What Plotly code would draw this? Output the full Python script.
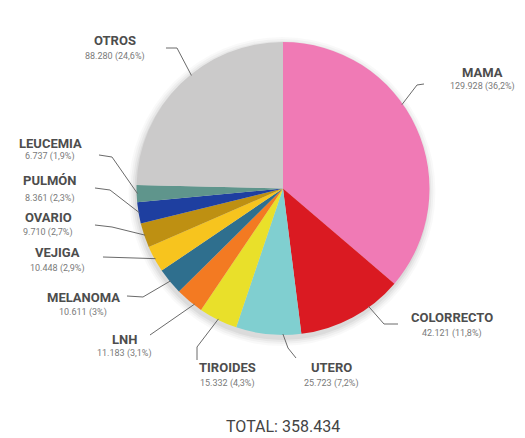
import math
import plotly.graph_objects as go

# ---------------- data ----------------
names = ["MAMA", "COLORRECTO", "UTERO", "TIROIDES", "LNH", "MELANOMA",
         "VEJIGA", "OVARIO", "PULMÓN", "LEUCEMIA", "OTROS"]
values = [129928, 42121, 25723, 15332, 11183, 10611, 10448, 9710, 8361, 6737, 88280]

# ---------------- style / layout ----------------
colors = ["#F07AB5", "#DA1A22", "#80CFD0", "#E9E02A", "#F37A22", "#2F6F8E",
          "#F7C41E", "#BE9012", "#1E3FA0", "#5F958C", "#CBCACA"]

W, H = 525, 438
dom_x = [136 / W, 430 / W]
dom_y = [1 - 335 / H, 1 - 42 / H]

# label centres in pixels (name line), value line offset
name_pos = [(482, 73), (452, 317), (331, 367), (227, 367), (124, 339), (83, 297),
            (57, 252), (48, 217), (50, 181), (50, 143), (115, 40)]
value_dy = [13, 16, 16, 16, 14, 15, 16, 15, 17, 14, 17]
# leader-line points near the label (pixels), the line then ends on the pie edge
leader_pts = [
    [(424, 84), (417, 85)],
    [(398, 324), (384, 324)],
    [(296, 358), (288, 348)],
    [(197, 360), (197, 347)],
    [(150, 335)],
    [(127, 296), (143, 297)],
    [(103, 257)],
    [(95, 225), (112, 227)],
    [(95, 188), (110, 190)],
    [(99, 155), (112, 157)],
    [(166, 48), (177, 48)],
]
anchor_frac = [0.42, 0.32, 0.28, 0.5, 0.3, 0.5, 0.5, 0.5, 0.5, 0.5, 0.56]

NAME_FONT = "Roboto, Liberation Sans Narrow, sans-serif"

# ---------------- helpers ----------------
total = sum(values)


def fmt_int(v):
    return f"{v:,}".replace(",", ".")


def fmt_pct(v):
    s = f"{v / total * 100:.1f}".replace(".", ",")
    if s.endswith(",0"):
        s = s[:-2]
    return s + "%"


def px2paper(x, y):
    return x / W, 1 - y / H


cx = (dom_x[0] + dom_x[1]) / 2 * W
cy = (1 - (dom_y[0] + dom_y[1]) / 2) * H
r = min((dom_x[1] - dom_x[0]) * W, (dom_y[1] - dom_y[0]) * H) / 2

fig = go.Figure(go.Pie(
    labels=names,
    values=values,
    marker=dict(colors=colors, line=dict(width=0)),
    sort=False,
    direction="clockwise",
    rotation=0,
    textinfo="none",
    hoverinfo="label+value+percent",
    showlegend=False,
    domain=dict(x=dom_x, y=dom_y),
))

shapes = []
# soft shadow behind the pie
for k, a in [(8, 0.025), (6, 0.03), (4, 0.04), (2, 0.05)]:
    x0, y0 = px2paper(cx - r - k, cy - r - k + 3)
    x1, y1 = px2paper(cx + r + k - 2, cy + r + k + 3)
    shapes.append(dict(type="circle", xref="paper", yref="paper",
                       x0=x0, x1=x1, y0=y1, y1=y0,
                       fillcolor=f"rgba(0,0,0,{a})", line=dict(width=0),
                       layer="below"))

annotations = []
cum = 0.0
for i, (n, v) in enumerate(zip(names, values)):
    share = v / total
    theta = 2 * math.pi * (cum + anchor_frac[i] * share)
    cum += share
    ex = cx + (r - 1) * math.sin(theta)
    ey = cy - (r - 1) * math.cos(theta)
    pts = leader_pts[i] + [(ex, ey)]
    path = ""
    for j, (px, py) in enumerate(pts):
        qx, qy = px2paper(px, py)
        path += ("M" if j == 0 else " L") + f" {qx:.5f} {qy:.5f}"
    shapes.append(dict(type="path", xref="paper", yref="paper", path=path,
                       line=dict(color="#6a6a6a", width=1), layer="above"))

    nx, ny = name_pos[i]
    ax, ay = px2paper(nx, ny)
    annotations.append(dict(x=ax, y=ay, xref="paper", yref="paper",
                            text=f"<b>{n}</b>", showarrow=False,
                            xanchor="center", yanchor="middle",
                            font=dict(family=NAME_FONT, size=13, color="#4d4d4d")))
    bx, by = px2paper(nx, ny + value_dy[i])
    annotations.append(dict(x=bx, y=by, xref="paper", yref="paper",
                            text=f"{fmt_int(v)} ({fmt_pct(v)})", showarrow=False,
                            xanchor="center", yanchor="middle",
                            font=dict(family=NAME_FONT, size=9, color="#7a7a7a")))

tx, ty = px2paper(283, 426)
annotations.append(dict(x=tx, y=ty, xref="paper", yref="paper",
                        text=f"TOTAL: {fmt_int(total)}", showarrow=False,
                        xanchor="center", yanchor="middle",
                        font=dict(family=NAME_FONT, size=16, color="#444444")))

fig.update_layout(
    width=W, height=H,
    margin=dict(l=0, r=0, t=0, b=0),
    paper_bgcolor="white",
    plot_bgcolor="white",
    shapes=shapes,
    annotations=annotations,
)

fig.write_html("out.html",
               config={"displayModeBar": False},
               post_script="document.body.style.margin='0';document.body.style.overflow='hidden';")
